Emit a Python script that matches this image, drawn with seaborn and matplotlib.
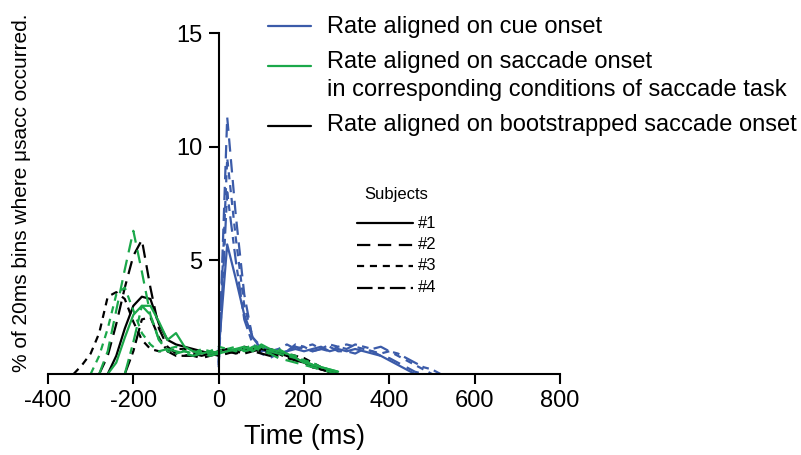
import numpy as np
import pandas as pd
import seaborn as sns
import matplotlib.pyplot as plt
from matplotlib.lines import Line2D

sns.set_style("ticks")
plt.rcParams["font.family"] = ["Liberation Sans", "DejaVu Sans"]
plt.rcParams["axes.unicode_minus"] = False
plt.rcParams["text.color"] = "black"
plt.rcParams["axes.labelcolor"] = "black"
plt.rcParams["xtick.color"] = "black"
plt.rcParams["ytick.color"] = "black"
plt.rcParams["axes.edgecolor"] = "black"

nan = np.nan

# cue-aligned rate (blue), 20 ms bins from 0 ms
cue_time = list(range(0, 540, 20))
cue_s1 = [1.0, 5.7, 4.2, 2.6, 1.6, 1.1, 0.9, 0.9, 1.0, 1.1, 1.0, 1.1, 1.2, 1.0, 1.1,
          1.0, 1.1, 1.0, 0.9, 0.8, 0.6, 0.4, 0.2, 0.0, nan, nan, nan]
cue_s2 = [0.3, 11.3, 7.0, 3.5, 1.5, 0.9, 0.7, 0.9, 1.0, 1.2, 1.1, 1.0, 1.1, 1.2, 1.0,
          1.0, 0.9, 1.1, 1.0, 0.8, 0.7, 0.5, 0.3, 0.1, 0.0, nan, nan]
cue_s3 = [0.5, 9.5, 6.0, 3.0, 1.6, 1.2, 1.0, 1.1, 1.3, 1.1, 1.2, 1.3, 1.1, 1.0, 1.2,
          1.3, 1.2, 1.1, 1.0, 0.9, 1.0, 0.8, 0.6, 0.4, 0.2, 0.0, nan]
cue_s4 = [0.4, 8.0, 5.0, 2.4, 1.3, 1.0, 1.1, 0.9, 1.0, 1.3, 1.2, 1.0, 1.1, 1.3, 1.2,
          1.1, 1.3, 1.2, 1.1, 1.2, 1.0, 0.9, 0.7, 0.5, 0.3, 0.2, 0.0]

# saccade-aligned (green) and bootstrapped (black), 20 ms bins from -360 ms
sac_time = list(range(-360, 300, 20))
sac_s1 = [nan, nan, nan, nan, nan, 0.0, 0.5, 1.6, 2.6, 3.0, 3.0, 2.3, 1.5, 1.8, 1.2,
          1.0, 0.9, 1.0, 0.9, 1.0, 1.1, 1.2, 1.0, 1.3, 1.1, 1.0, 0.9, 0.7, 0.5, 0.4,
          0.3, 0.2, 0.1]
sac_s2 = [nan, nan, nan, nan, 0.0, 1.0, 2.8, 4.6, 6.3, 4.5, 2.6, 1.5, 1.1, 1.0, 0.9,
          0.8, 0.9, 0.8, 0.9, 1.0, 1.1, 1.0, 1.2, 1.0, 0.9, 0.7, 0.6, 0.5, 0.4, 0.3,
          0.2, 0.1, 0.0]
sac_s3 = [nan, nan, nan, 0.0, 0.8, 2.0, 3.5, 3.8, 2.8, 1.8, 1.3, 1.0, 1.1, 1.2, 1.0,
          0.9, 1.1, 1.0, 1.2, 1.1, 1.0, 1.1, 1.3, 1.1, 1.0, 1.1, 0.9, 0.8, 0.6, 0.5,
          0.3, 0.2, 0.1]
sac_s4 = [nan, nan, nan, nan, nan, nan, nan, 0.0, 1.4, 3.0, 2.6, 1.5, 1.0, 0.9, 1.0,
          0.9, 1.0, 0.9, 1.0, 1.1, 1.2, 1.0, 1.1, 1.2, 1.0, 0.9, 0.8, 0.7, 0.6, 0.4,
          0.3, 0.2, 0.1]
boot_s1 = [nan, nan, nan, nan, nan, 0.0, 0.8, 2.0, 3.0, 3.4, 3.3, 2.2, 1.5, 1.3, 1.2,
           1.1, 1.0, 0.9, 1.0, 1.1, 1.0, 1.1, 1.0, 1.1, 1.0, 0.9, 0.8, 0.7, 0.5, 0.4,
           0.2, 0.1, 0.0]
boot_s2 = [nan, nan, nan, nan, 0.0, 0.8, 2.2, 3.8, 5.2, 5.9, 3.8, 2.0, 1.2, 0.9, 0.8,
           0.8, 0.7, 0.8, 0.9, 1.0, 0.9, 1.0, 1.1, 1.0, 0.9, 0.8, 0.8, 0.6, 0.5, 0.3,
           0.2, 0.1, 0.0]
boot_s3 = [nan, 0.0, 0.4, 0.9, 1.8, 3.4, 3.6, 3.3, 2.3, 1.5, 1.1, 1.0, 1.0, 1.1, 1.1,
           1.0, 0.9, 1.0, 1.0, 1.1, 1.0, 1.2, 1.1, 1.0, 1.1, 1.0, 0.9, 0.8, 0.7, 0.5,
           0.3, 0.1, 0.0]
boot_s4 = [nan, nan, nan, nan, nan, nan, nan, 0.0, 1.0, 2.4, 2.5, 1.6, 1.0, 0.8, 0.8,
           0.9, 0.8, 0.9, 0.8, 0.9, 1.0, 0.9, 1.0, 0.9, 0.8, 0.9, 0.7, 0.6, 0.5, 0.3,
           0.2, 0.1, 0.0]

conditions = ["cue", "saccade", "bootstrap"]
subjects = ["#1", "#2", "#3", "#4"]
legend_labels = ["Rate aligned on cue onset",
                 "Rate aligned on saccade onset\nin corresponding conditions of saccade task",
                 "Rate aligned on bootstrapped saccade onset"]
colors = {"cue": "#3b5ba9", "saccade": "#1ba84a", "bootstrap": "#000000"}
dashes = {"#1": "", "#2": (6, 3.4), "#3": (3.2, 2.6), "#4": (7, 2.4, 3, 2.4)}

series = {
    "cue": (cue_time, [cue_s1, cue_s2, cue_s3, cue_s4]),
    "bootstrap": (sac_time, [boot_s1, boot_s2, boot_s3, boot_s4]),
    "saccade": (sac_time, [sac_s1, sac_s2, sac_s3, sac_s4]),
}
frames = []
for cond, (t, vals) in series.items():
    for subj, v in zip(subjects, vals):
        frames.append(pd.DataFrame({"time": t, "rate": v, "cond": cond, "subject": subj}))
df = pd.concat(frames).dropna()

fig = plt.figure(figsize=(8.01, 4.55), dpi=100)
ax = fig.add_axes([48 / 801, 1 - 374 / 455, 512 / 801, 341 / 455])

sns.lineplot(data=df, x="time", y="rate", hue="cond", style="subject",
             palette=colors, dashes=dashes, estimator=None, sort=False,
             linewidth=1.6, legend=False, ax=ax)

ax.set_xlim(-400, 800)
ax.set_ylim(0, 15)
ax.set_xticks(range(-400, 801, 200))
ax.set_yticks([5, 10, 15])
ax.spines["left"].set_position(("data", 0))
ax.spines["right"].set_visible(False)
ax.spines["top"].set_visible(False)
for s in ["left", "bottom"]:
    ax.spines[s].set_linewidth(1.5)
ax.tick_params(axis="both", labelsize=17, width=1.5, length=7.5, direction="out", pad=4)
ax.set_xlabel("Time (ms)", fontsize=19.5, labelpad=9)
ax.set_ylabel("")
fig.text(22 / 801, 1 - 193 / 455, "% of 20ms bins where μsacc occurred.",
         rotation=90, fontsize=15, ha="center", va="center")

# condition legend
rows = [(26, 27), (66, 62), (126, 125)]
for cond, label, (ly, ty) in zip(conditions, legend_labels, rows):
    fig.add_artist(Line2D([268 / 801, 311 / 801], [1 - ly / 455] * 2,
                          color=colors[cond], lw=1.6))
    for i, part in enumerate(label.split("\n")):
        fig.text(327 / 801, 1 - (ty + i * 28) / 455, part, fontsize=17,
                 ha="left", va="center")

# subject legend
fig.text(396 / 801, 1 - 195 / 455, "Subjects", fontsize=12, ha="center", va="center")
for i, subj in enumerate(subjects):
    y = 1 - (223 + i * 21.5) / 455
    ln = Line2D([357 / 801, 413 / 801], [y, y], color="black", lw=1.6)
    if dashes[subj]:
        ln.set_dashes(dashes[subj])
    fig.add_artist(ln)
    fig.text(418 / 801, y, subj, fontsize=12, ha="left", va="center")

fig.savefig("out.png", dpi=100)
